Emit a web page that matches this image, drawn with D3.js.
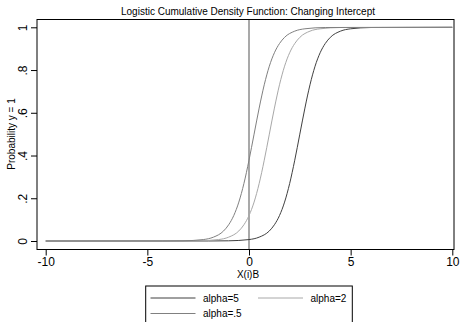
<!DOCTYPE html>
<html><head><meta charset="utf-8">
<script src="https://cdn.jsdelivr.net/npm/d3@7"></script>
<style>body{margin:0;background:#fff}svg{display:block}text{font-family:"Liberation Sans",Arial,sans-serif}</style>
</head><body>
<script>
const title = "Logistic Cumulative Density Function: Changing Intercept";
const xTicks = [-10, -5, 0, 5, 10];
const yTicks = [0, .2, .4, .6, .8, 1];
const yTickLabels = ["0", ".2", ".4", ".6", ".8", "1"];
const seriesNames = ["alpha=5", "alpha=2", "alpha=.5"];
const probs = [0, 0.0001, 0.0009, 0.0067, 0.018, 0.047, 0.076, 0.119, 0.182, 0.269, 0.378, 0.5, 0.622, 0.731, 0.818, 0.881, 0.924, 0.953, 0.982, 0.993, 0.999, 1];
const xA5  = [-10, -2, -1, 0, 0.5, 1, 1.25, 1.5, 1.75, 2, 2.25, 2.5, 2.75, 3, 3.25, 3.5, 3.75, 4, 4.5, 5, 6, 10];
const xA2  = [-10, -3.5, -2.5, -1.5, -1, -0.5, -0.25, 0, 0.25, 0.5, 0.75, 1, 1.25, 1.5, 1.75, 2, 2.25, 2.5, 3, 3.5, 4.5, 10];
const xA05 = [-10, -4.25, -3.25, -2.25, -1.75, -1.25, -1, -0.75, -0.5, -0.25, 0, 0.25, 0.5, 0.75, 1, 1.25, 1.5, 1.75, 2.25, 2.75, 3.75, 10];
const seriesX = [xA5, xA2, xA05];
const colors = ["#404040", "#a8a8a8", "#808080"];

const W = 460, H = 322;
const svg = d3.select("body").append("svg").attr("width", W).attr("height", H);
const x = d3.scaleLinear().domain([-10, 10]).range([45.7, 452.3]);
const y = d3.scaleLinear().domain([0, 1]).range([241, 27.3]);
const box = {l: 37, r: 454, t: 19.5, b: 249.5};

// title
svg.append("text").attr("x", 248).attr("y", 15).attr("text-anchor", "middle")
  .attr("font-size", 10).text(title);

// vertical reference line at 0
svg.append("line").attr("x1", x(0)).attr("x2", x(0)).attr("y1", box.t).attr("y2", box.b)
  .attr("stroke", "#707070").attr("stroke-width", 1.2);

// curves
const line = d3.line().x(d => x(d[0])).y(d => y(d[1])).curve(d3.curveMonotoneX);
seriesX.forEach((xs, i) => {
  svg.append("path").datum(xs.map((v, j) => [v, probs[j]]))
    .attr("d", line).attr("fill", "none").attr("stroke", colors[i]).attr("stroke-width", 1);
});

// frame
svg.append("rect").attr("x", box.l).attr("y", box.t).attr("width", box.r - box.l).attr("height", box.b - box.t)
  .attr("fill", "none").attr("stroke", "#000").attr("stroke-width", 1);

// x axis
const xAxis = d3.axisBottom(x).tickValues(xTicks).tickSize(6).tickPadding(2).tickFormat(d => String(d));
const gx = svg.append("g").attr("transform", `translate(0,${box.b})`).call(xAxis);
gx.select(".domain").remove();
gx.selectAll("text").attr("font-size", 12).attr("font-family", "Liberation Sans, Arial, sans-serif").attr("fill", "#000");
gx.selectAll("line").attr("stroke", "#000");

// y axis
const yAxis = d3.axisLeft(y).tickValues(yTicks).tickSize(6).tickFormat((d, i) => yTickLabels[i]);
const gy = svg.append("g").attr("transform", `translate(${box.l},0)`).call(yAxis);
gy.select(".domain").remove();
gy.selectAll("line").attr("stroke", "#000");
gy.selectAll("text").attr("font-size", 12).attr("font-family", "Liberation Sans, Arial, sans-serif").attr("fill", "#000")
  .attr("x", null).attr("dy", null).attr("y", 0).attr("text-anchor", "middle")
  .attr("transform", `translate(${26.5 - box.l},0) rotate(-90)`);

// axis titles
svg.append("text").attr("x", 248).attr("y", 277.5).attr("text-anchor", "middle").attr("font-size", 10).text("X(i)B");
svg.append("text").attr("transform", "translate(14.5,134) rotate(-90)").attr("text-anchor", "middle")
  .attr("font-size", 10).text("Probability y = 1");

// legend
const lg = svg.append("g");
lg.append("rect").attr("x", 145.7).attr("y", 286).attr("width", 352.3 - 145.7).attr("height", 50)
  .attr("fill", "none").attr("stroke", "#000").attr("stroke-width", 1);
const legPos = [[150.5, 298], [258, 298], [150.5, 313.5]];
seriesNames.forEach((n, i) => {
  const [lx, ly] = legPos[i];
  lg.append("line").attr("x1", lx).attr("x2", lx + 45).attr("y1", ly).attr("y2", ly)
    .attr("stroke", colors[i]).attr("stroke-width", 1);
  lg.append("text").attr("x", lx + 52.5).attr("y", ly + 3.5).attr("font-size", 10).text(n);
});
</script>
</body></html>
